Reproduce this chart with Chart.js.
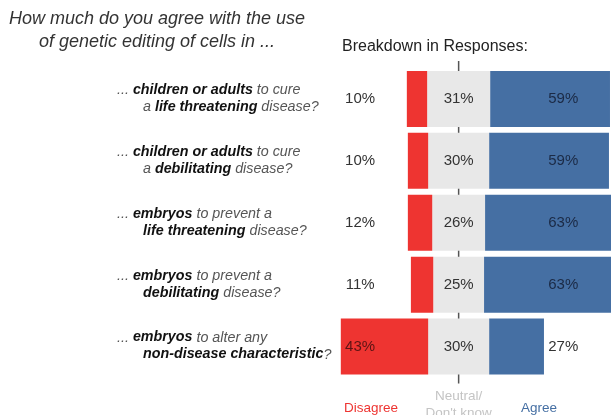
<!DOCTYPE html>
<html>
<head>
<meta charset="utf-8">
<script src="https://cdn.jsdelivr.net/npm/chart.js@4.4.0/dist/chart.umd.min.js"></script>
<style>
  html, body { margin: 0; padding: 0; background: #fff; }
  #wrap { width: 611px; height: 415px; position: relative; }
</style>
</head>
<body>
<div id="wrap"><canvas id="chart"></canvas></div>
<script>
// Question text, one entry per row: two lines, each a list of [text, bold?]
const categories = [
    [[['... ', false], ['children or adults', true], [' to cure', false]],
     [['a ', false], ['life threatening', true], [' disease?', false]]],
    [[['... ', false], ['children or adults', true], [' to cure', false]],
     [['a ', false], ['debilitating', true], [' disease?', false]]],
    [[['... ', false], ['embryos', true], [' to prevent a', false]],
     [['life threatening', true], [' disease?', false]]],
    [[['... ', false], ['embryos', true], [' to prevent a', false]],
     [['debilitating', true], [' disease?', false]]],
    [[['... ', false], ['embryos', true], [' to alter any', false]],
     [['non-disease characteristic', true], ['?', false]]]
];

// Response shares (%)
const disagree = [10, 10, 12, 11, 43];
const neutral = [31, 30, 26, 25, 30];
const agree = [59, 59, 63, 63, 27];

const seriesNames = ['Disagree', 'Neutral/', 'Agree'];

const RED = '#ee3431';
const GREY = '#e8e8e8';
const BLUE = '#456fa3';
const FONT = '"Liberation Sans", Arial, Helvetica, sans-serif';

// Diverging bars centred on the middle of the neutral share
const redBars = disagree.map((d, i) => [-neutral[i] / 2 - d, -neutral[i] / 2]);
const greyBars = neutral.map(n => [-n / 2, n / 2]);
const blueBars = agree.map((a, i) => [neutral[i] / 2, neutral[i] / 2 + a]);

// where the value labels sit, in axis units
const labelCols = [-48.5, 0, 51.5];

const textPlugin = {
    id: 'texts',
    beforeDatasetsDraw(chart) {
        const ctx = chart.ctx;
        const x0 = chart.scales.x.getPixelForValue(0);
        const area = chart.chartArea;
        ctx.save();
        ctx.strokeStyle = '#555';
        ctx.lineWidth = 1.5;
        ctx.beginPath();
        ctx.moveTo(x0, area.top - 7);
        ctx.lineTo(x0, area.bottom + 6);
        ctx.stroke();
        ctx.restore();
    },
    afterDraw(chart) {
        const ctx = chart.ctx;
        const xs = chart.scales.x;
        const ys = chart.scales.y;
        ctx.save();

        // title
        ctx.fillStyle = '#333';
        ctx.font = 'italic 18px ' + FONT;
        ctx.textAlign = 'center';
        ctx.textBaseline = 'middle';
        ctx.fillText('How much do you agree with the use', 157, 19);
        ctx.fillText('of genetic editing of cells in ...', 157, 42);

        ctx.fillStyle = '#222';
        ctx.font = '16px ' + FONT;
        ctx.textAlign = 'left';
        ctx.fillText('Breakdown in Responses:', 342, 47);

        // question labels
        ctx.textAlign = 'left';
        categories.forEach((lines, i) => {
            const yc = ys.getPixelForValue(i);
            lines.forEach((segs, li) => {
                let x = li === 0 ? 117 : 143;
                const y = yc + (li === 0 ? -9 : 8);
                segs.forEach(([t, bold]) => {
                    ctx.font = (bold ? 'italic bold ' : 'italic ') + '14.3px ' + FONT;
                    ctx.fillStyle = bold ? '#111' : '#555';
                    ctx.fillText(t, x, y);
                    x += ctx.measureText(t).width;
                });
            });
        });

        // value labels
        ctx.textAlign = 'center';
        ctx.font = '15px ' + FONT;
        const sets = [[disagree, redBars, '#5c1414'], [neutral, greyBars, '#333'], [agree, blueBars, '#1b2a45']];
        sets.forEach(([vals, bars, inside], k) => {
            const lx = xs.getPixelForValue(labelCols[k]);
            vals.forEach((v, i) => {
                const inBar = labelCols[k] > bars[i][0] && labelCols[k] < bars[i][1];
                ctx.fillStyle = inBar ? inside : '#333';
                ctx.fillText(v + '%', lx, ys.getPixelForValue(i));
            });
        });

        // legend under the bars
        ctx.font = '13.5px ' + FONT;
        ctx.fillStyle = RED;
        ctx.fillText(seriesNames[0], 371, 408);
        ctx.fillStyle = '#c4c4c4';
        ctx.fillText(seriesNames[1], xs.getPixelForValue(0), 396);
        ctx.fillText("Don't know", xs.getPixelForValue(0), 413);
        ctx.fillStyle = BLUE;
        ctx.fillText(seriesNames[2], 539, 408);
        ctx.restore();
    }
};

new Chart(document.getElementById('chart'), {
    type: 'bar',
    data: {
        labels: categories.map((c, i) => 'q' + (i + 1)),
        datasets: [
            { label: seriesNames[0], data: redBars, backgroundColor: RED },
            { label: seriesNames[1], data: greyBars, backgroundColor: GREY },
            { label: seriesNames[2], data: blueBars, backgroundColor: BLUE }
        ]
    },
    options: {
        indexAxis: 'y',
        responsive: true,
        maintainAspectRatio: false,
        animation: false,
        datasets: {
            bar: { grouped: false, categoryPercentage: 0.905, barPercentage: 1, borderWidth: 0 }
        },
        layout: { padding: { left: 320.5, right: 0, top: 68, bottom: 37.5 } },
        scales: {
            x: { display: false, min: -68, max: 75 },
            y: { display: false }
        },
        plugins: {
            legend: { display: false },
            tooltip: { enabled: false }
        }
    },
    plugins: [textPlugin]
});
</script>
</body>
</html>
